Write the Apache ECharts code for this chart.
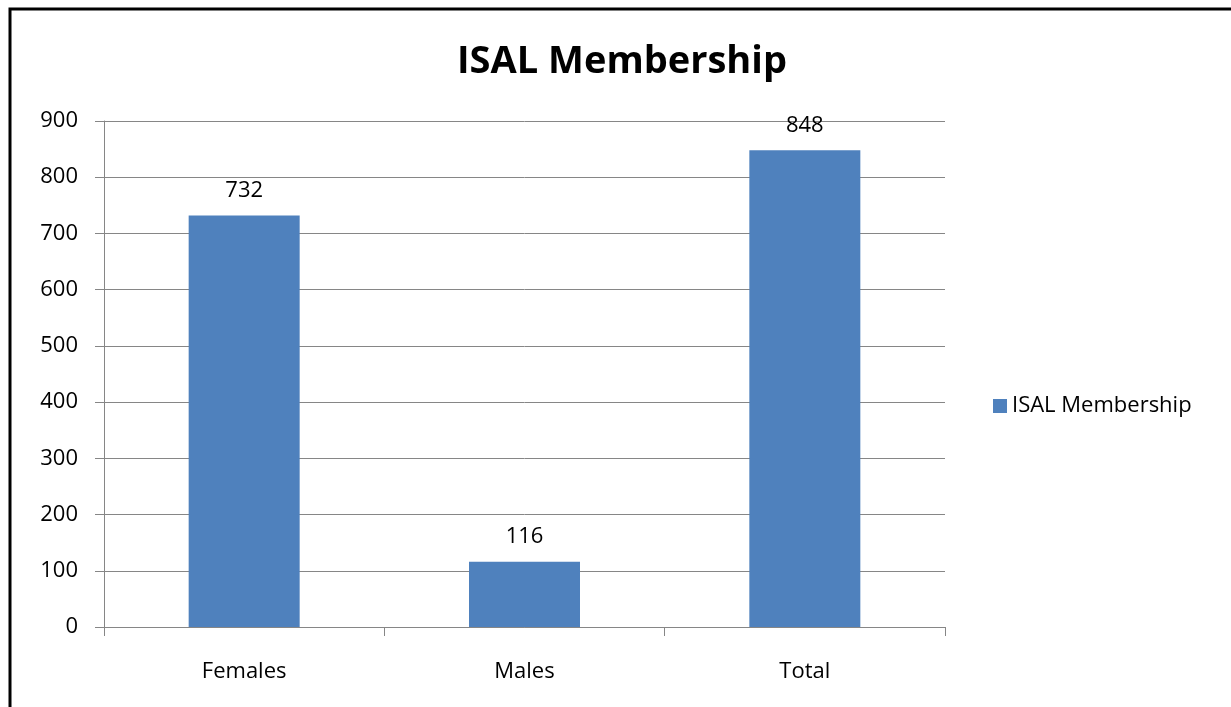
<!DOCTYPE html>
<html>
<head>
<meta charset="utf-8">
<script src="https://cdn.jsdelivr.net/npm/echarts@6/dist/echarts.min.js"></script>
<style>
  html, body { margin: 0; padding: 0; background: #fff; }
  #chart { width: 1231px; height: 707px; }
</style>
</head>
<body>
<div id="chart"></div>
<script>
var categories = ["Females", "Males", "Total"];
var members = [732, 116, 848];
var seriesName = "ISAL Membership";

var font = "'Open Sans', 'DejaVu Sans', sans-serif";
var gray = "#868686";

var myChart = echarts.init(document.getElementById("chart"));
var option = {
  backgroundColor: "#fff",
  animation: false,
  title: {
    text: "ISAL Membership",
    left: 617,
    textAlign: "center",
    top: 38,
    textStyle: { fontFamily: font, fontSize: 38, fontWeight: "bold", color: "#000" }
  },
  legend: {
    data: [seriesName],
    orient: "vertical",
    left: 988,
    top: 390,
    itemWidth: 14,
    itemHeight: 14,
    itemGap: 8,
    icon: "rect",
    textStyle: { fontFamily: font, fontSize: 22, color: "#000" }
  },
  grid: {
    left: 104,
    right: 286,
    top: 121,
    bottom: 80
  },
  xAxis: {
    type: "category",
    data: categories,
    axisLine: { show: true, lineStyle: { color: gray, width: 1 } },
    axisTick: { show: true, length: 9, lineStyle: { color: gray } },
    axisLabel: { fontFamily: font, fontSize: 22, color: "#000", margin: 34 }
  },
  yAxis: {
    type: "value",
    min: 0,
    max: 900,
    interval: 100,
    axisLine: { show: true, lineStyle: { color: gray, width: 1 } },
    axisTick: { show: true, length: 9, lineStyle: { color: gray } },
    axisLabel: { fontFamily: font, fontSize: 22, color: "#000", margin: 26 },
    splitLine: { show: true, lineStyle: { color: gray, width: 1 } }
  },
  series: [
    {
      name: seriesName,
      type: "bar",
      data: members,
      barWidth: 111,
      itemStyle: { color: "#4F81BD" },
      label: {
        show: true,
        position: "top",
        distance: 14,
        fontFamily: font,
        fontSize: 22,
        color: "#000"
      }
    }
  ],
  graphic: [
    {
      type: "polyline",
      shape: { points: [[10, 707], [10, 9], [1231, 9]] },
      style: { stroke: "#000", lineWidth: 3, fill: null },
      silent: true
    }
  ]
};
myChart.setOption(option);
</script>
</body>
</html>
